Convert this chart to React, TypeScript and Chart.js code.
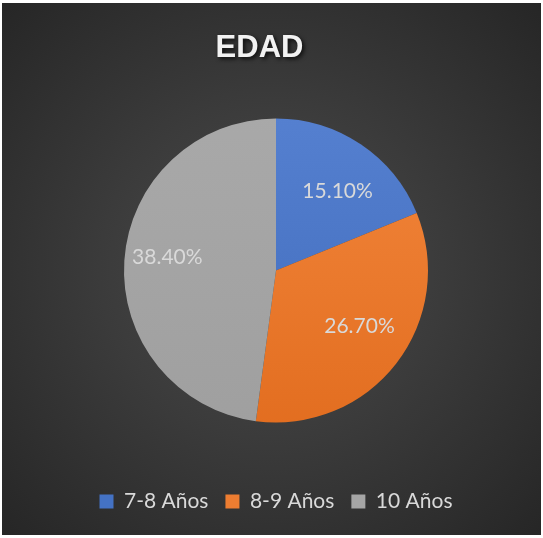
import React, { useEffect, useRef } from "react";
import { Chart, registerables } from "chart.js";

Chart.register(...registerables);

const title = "EDAD";
const categories = ["7-8 Años", "8-9 Años", "10 Años"];
const values = [15.1, 26.7, 38.4];
const valueLabels = ["15.10%", "26.70%", "38.40%"];
const baseColors = ["#4472C4", "#ED7D31", "#A5A5A5"];
const topColors = ["#5883d3", "#f58a40", "#aaaaaa"];
const bottomColors = ["#3d68b8", "#e06a1c", "#9e9e9e"];
const labelRadiusFactors = [0.66, 0.66, 0.72];
const labelAngleShiftDeg = [4, -4, 3];

const titlePlugin = {
  id: "customTitle",
  afterDraw(chart: any) {
    const ctx = chart.ctx;
    ctx.save();
    ctx.font = "bold 31px 'Liberation Sans', Arial, sans-serif";
    ctx.textAlign = "center";
    ctx.textBaseline = "middle";
    ctx.shadowColor = "rgba(0,0,0,0.75)";
    ctx.shadowBlur = 4;
    ctx.shadowOffsetX = 2;
    ctx.shadowOffsetY = 2;
    ctx.fillStyle = "#f2f2f2";
    ctx.fillText(title, chart.width / 2 - 12, 45);
    ctx.restore();
  },
};

const labelPlugin = {
  id: "sliceLabels",
  afterDatasetsDraw(chart: any) {
    const ctx = chart.ctx;
    const meta = chart.getDatasetMeta(0);
    ctx.save();
    ctx.font = "21px Lato, sans-serif";
    ctx.textAlign = "center";
    ctx.textBaseline = "middle";
    ctx.fillStyle = "#d9d9d9";
    meta.data.forEach((arc: any, i: number) => {
      const { x, y, startAngle, endAngle, outerRadius } = arc.getProps(
        ["x", "y", "startAngle", "endAngle", "outerRadius"],
        true
      );
      const mid = (startAngle + endAngle) / 2 + (labelAngleShiftDeg[i] * Math.PI) / 180;
      const r = outerRadius * labelRadiusFactors[i];
      ctx.fillText(valueLabels[i], x + Math.cos(mid) * r, y + Math.sin(mid) * r);
    });
    ctx.restore();
  },
};

export default function App() {
  const ref = useRef<HTMLCanvasElement | null>(null);
  useEffect(() => {
    document.body.style.margin = "0";
    document.body.style.background = "#ffffff";
    const canvas = ref.current!;
    const chart = new Chart(canvas, {
      type: "pie",
      data: {
        labels: categories,
        datasets: [
          {
            data: values,
            borderWidth: 0,
            radius: 152,
            backgroundColor: (c: any) => {
              const i = c.dataIndex;
              const area = c.chart.chartArea;
              if (!area || i === undefined) return baseColors[i ?? 0];
              const g = c.chart.ctx.createLinearGradient(0, area.top, 0, area.bottom);
              g.addColorStop(0, topColors[i]);
              g.addColorStop(1, bottomColors[i]);
              return g;
            },
          },
        ],
      },
      options: {
        responsive: false,
        animation: false,
        layout: { padding: { top: 64, left: 9, right: 0, bottom: 13 } },
        plugins: {
          title: { display: false },
          tooltip: { enabled: false },
          legend: {
            display: true,
            position: "bottom",
            labels: {
              color: "#d9d9d9",
              font: { family: "Lato, sans-serif", size: 21 },
              boxWidth: 14,
              boxHeight: 14,
              padding: 17,
              generateLabels: () =>
                categories.map((t, i) => ({
                  text: t,
                  fillStyle: baseColors[i],
                  strokeStyle: baseColors[i],
                  lineWidth: 0,
                  hidden: false,
                  index: i,
                  fontColor: "#d9d9d9",
                })),
            },
          },
        },
      },
      plugins: [titlePlugin, labelPlugin],
    } as any);
    return () => chart.destroy();
  }, []);
  return (
    <div
      style={{
        position: "absolute",
        left: 2,
        top: 3,
        width: 539,
        height: 532,
        background:
          "radial-gradient(ellipse at 50% 50%, #4b4b4b 0%, #3b3b3b 45%, #262626 100%)",
      }}
    >
      <canvas ref={ref} width={539} height={532} style={{ display: "block" }} />
    </div>
  );
}
